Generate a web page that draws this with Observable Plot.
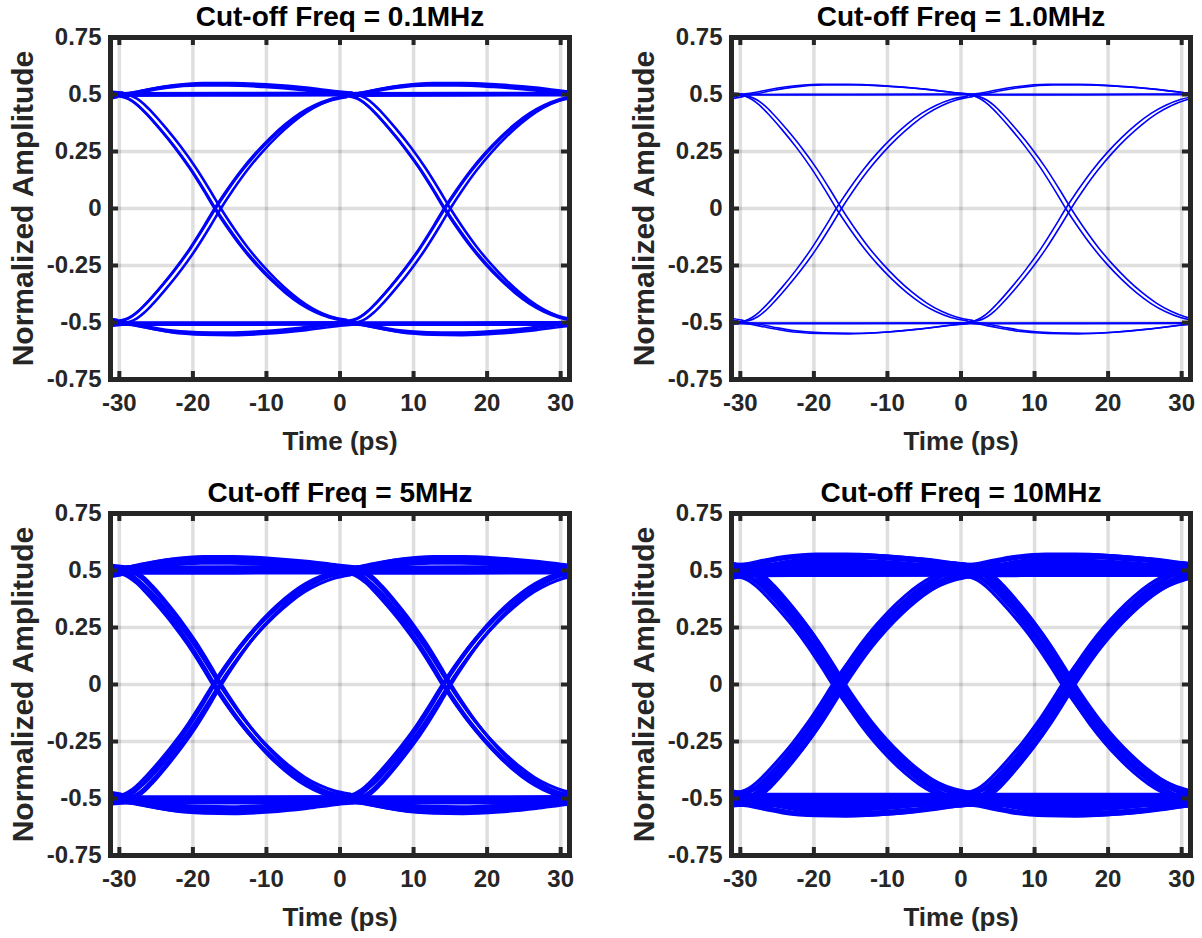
<!DOCTYPE html>
<html>
<head>
<meta charset="utf-8">
<script src="https://cdn.jsdelivr.net/npm/d3@7"></script>
<script src="https://cdn.jsdelivr.net/npm/@observablehq/plot@0.6"></script>
<style>
  html, body { margin: 0; padding: 0; background: #fff; overflow: hidden; }
  #chart { position: relative; width: 1202px; height: 938px; }
  #chart svg { position: absolute; }
</style>
</head>
<body>
<div id="chart"></div>
<script>
// Eye diagrams of the received signal for four cut-off frequencies.

const panelTitles = [
  "Cut-off Freq = 0.1MHz",
  "Cut-off Freq = 1.0MHz",
  "Cut-off Freq = 5MHz",
  "Cut-off Freq = 10MHz"
];
const xTicks = [-30, -20, -10, 0, 10, 20, 30];
const yTicks = [-0.75, -0.5, -0.25, 0, 0.25, 0.5, 0.75];
const timeWindow = [-31.2, 31.2];           // ps, two unit intervals
const ampRange = [-0.75, 0.75];

// Bit-centre instants (ps); each segment runs one UI from its bit centre.
const bitCentres = [-61.2, -30, 1.2];

// Segment shapes: time from bit centre (ps) and normalized amplitude.
const fallU = [0, 1, 2, 3, 4, 6, 8, 10, 12, 13.4, 15, 17, 19, 21, 23, 25, 27, 29, 31.2];
const fallY = [0.497, 0.492, 0.477, 0.452, 0.42, 0.347, 0.267, 0.177, 0.075, 0, -0.078, -0.167, -0.244, -0.311, -0.369, -0.417, -0.453, -0.478, -0.493];
const riseU = [0, 1, 2, 3, 4, 6, 8, 10, 12, 13.4, 15, 17, 19, 21, 23, 25, 27, 29, 31.2];
const riseY = [-0.497, -0.492, -0.477, -0.452, -0.42, -0.347, -0.267, -0.177, -0.075, 0, 0.078, 0.167, 0.244, 0.311, 0.369, 0.417, 0.453, 0.478, 0.493];
const highBulgeU = [0, 1.4, 4, 6.6, 11, 15, 20, 25, 29.2, 31.2];
const highBulgeY = [0.5, 0.504, 0.52, 0.534, 0.545, 0.545, 0.538, 0.525, 0.509, 0.503];
const lowBulgeU = [0, 1.4, 4, 6.6, 11, 15, 20, 25, 29.2, 31.2];
const lowBulgeY = [-0.502, -0.506, -0.522, -0.537, -0.548, -0.55, -0.543, -0.528, -0.511, -0.505];
const highFlatU = [0, 15.6, 31.2];
const highFlatY = [0.5, 0.501, 0.502];
const lowFlatU = [0, 15.6, 31.2];
const lowFlatY = [-0.505, -0.505, -0.504];

// Per-panel trace spread: timing offset (ps) and amplitude gain of each trace.
const jitter01 = [-0.45, -0.32, 0.4];
const gain01 = [1.0, 0.99, 1.01];
const jitter1 = [-0.36, 0.36];
const gain1 = [1.0, 0.995];
const jitter5 = [-0.7, -0.55, -0.4, 0.2, 0.35, 0.5];
const gain5 = [0.985, 1.02, 1.0, 0.975, 1.01, 1.03];
const jitter10 = [-0.85, -0.65, -0.45, -0.25, -0.05, 0.15, 0.35, 0.55, 0.75, 0.9];
const gain10 = [0.955, 1.05, 0.97, 1.035, 1.0, 0.96, 1.045, 0.985, 1.02, 0.99];
const lineWidths = [2.6, 1.6, 3, 3.2];

const shapes = [
  {u: fallU, y: fallY},
  {u: riseU, y: riseY},
  {u: highBulgeU, y: highBulgeY},
  {u: lowBulgeU, y: lowBulgeY},
  {u: highFlatU, y: highFlatY},
  {u: lowFlatU, y: lowFlatY}
];

// Build one row per sample, one id per drawn segment.
function traceRows(jitter, gain) {
  const rows = [];
  let id = 0;
  jitter.forEach((dt, k) => {
    bitCentres.forEach(c => {
      shapes.forEach(s => {
        s.u.forEach((u, i) => rows.push({t: c + u + dt, v: s.y[i] * gain[k], id}));
        id++;
      });
    });
  });
  return rows;
}

const panelRows = [
  traceRows(jitter01, gain01),
  traceRows(jitter1, gain1),
  traceRows(jitter5, gain5),
  traceRows(jitter10, gain10)
];

const W = 590, H = 476, ML = 110, MR = 21, MT = 37, MB = 97;
const frameW = W - ML - MR, frameH = H - MT - MB;
const ink = "#262626";
const font = "'Liberation Sans', Arial, Helvetica, sans-serif";

function panel(title, rows, strokeWidth) {
  return Plot.plot({
    width: W, height: H,
    marginLeft: ML, marginRight: MR, marginTop: MT, marginBottom: MB,
    style: {fontFamily: font, background: "transparent", overflow: "visible"},
    x: {domain: timeWindow, label: null},
    y: {domain: ampRange, label: null},
    marks: [
      Plot.gridX(xTicks, {stroke: ink, strokeOpacity: 0.15, strokeWidth: 3.5}),
      Plot.gridY(yTicks, {stroke: ink, strokeOpacity: 0.15, strokeWidth: 3.5}),
      Plot.line(rows, {x: "t", y: "v", z: "id", stroke: "#0000ff", strokeWidth, curve: "monotone-x", clip: true}),
      Plot.tickX(xTicks, {x: d => d, stroke: ink, strokeWidth: 4, insetBottom: frameH - 8}),
      Plot.tickX(xTicks, {x: d => d, stroke: ink, strokeWidth: 4, insetTop: frameH - 8}),
      Plot.tickY(yTicks, {y: d => d, stroke: ink, strokeWidth: 4, insetRight: frameW - 8}),
      Plot.tickY(yTicks, {y: d => d, stroke: ink, strokeWidth: 4, insetLeft: frameW - 8}),
      Plot.frame({stroke: ink, strokeWidth: 5}),
      Plot.axisX(xTicks, {tickSize: 0, tickPadding: 14, tickFormat: d => String(d), fontSize: 24, fontWeight: "bold", fill: ink, label: null}),
      Plot.axisY(yTicks, {tickSize: 0, tickPadding: 9, tickFormat: d => String(d), fontSize: 24, fontWeight: "bold", fill: ink, label: null}),
      Plot.text([title], {text: d => d, frameAnchor: "top", lineAnchor: "middle", textAnchor: "middle", dy: -20, fontSize: 28, fontWeight: "bold", fill: "#000"}),
      Plot.text(["Time (ps)"], {text: d => d, frameAnchor: "bottom", lineAnchor: "middle", textAnchor: "middle", dy: 62, fontSize: 26, fontWeight: "bold", fill: ink}),
      Plot.text(["Normalized Amplitude"], {text: d => d, frameAnchor: "left", lineAnchor: "middle", textAnchor: "middle", rotate: -90, dx: -87, fontSize: 30, fontWeight: "bold", fill: ink})
    ]
  });
}

const chart = document.getElementById("chart");
const offsets = [[0, 0], [621, 0], [0, 476], [621, 476]];
panelTitles.forEach((title, i) => {
  const svg = panel(title, panelRows[i], lineWidths[i]);
  svg.style.left = offsets[i][0] + "px";
  svg.style.top = offsets[i][1] + "px";
  chart.appendChild(svg);
});
</script>
</body>
</html>
